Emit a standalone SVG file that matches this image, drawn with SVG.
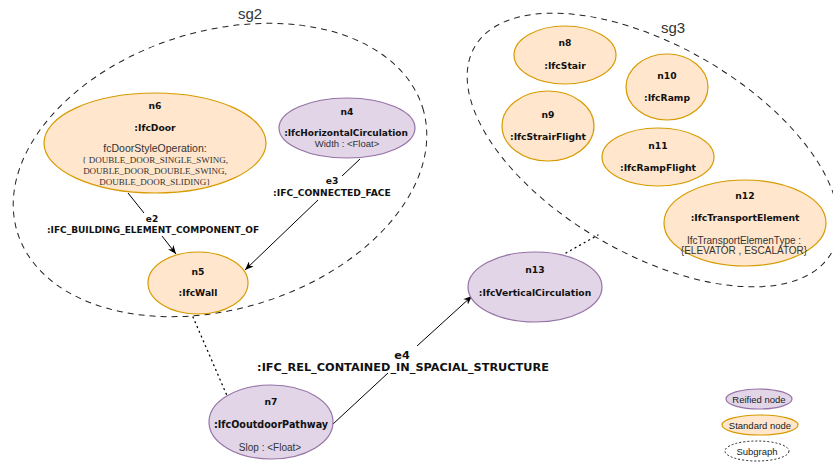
<svg xmlns="http://www.w3.org/2000/svg" width="833" height="462" viewBox="0 0 833 462">
  <style>
    .bg { fill: #ffffff; }
    .std { fill: #ffe6cc; stroke: #d79b00; stroke-width: 1.2; }
    .rei { fill: #e1d5e7; stroke: #9673a6; stroke-width: 1.2; }
    .sub { fill: none; stroke: #222; stroke-width: 1; stroke-dasharray: 6 5; }
    .edge { fill: none; stroke: #000; stroke-width: 1; }
    .dot { fill: none; stroke: #000; stroke-width: 1.3; stroke-dasharray: 1 4.2; stroke-linecap: round; }
    .t { font-family: "DejaVu Sans", Verdana, sans-serif; font-weight: bold; font-size: 9.2px; fill: #111; text-anchor: middle; }
    .lbl { font-size: 9px; }
    .big { font-size: 11.3px; }
    .attr { font-family: "Liberation Sans", Arial, sans-serif; font-size: 10px; fill: #333; text-anchor: middle; }
    .serif { font-family: "Liberation Serif", "Times New Roman", serif; font-size: 9px; fill: #333; text-anchor: middle; }
    .sg { font-family: "Liberation Sans", Arial, sans-serif; font-size: 15px; fill: #333; text-anchor: middle; }
    .leg { font-family: "Liberation Sans", Arial, sans-serif; font-size: 9.5px; fill: #222; text-anchor: middle; }
  </style>
  <defs>
    <marker id="arrow" viewBox="0 0 10 8" refX="10" refY="4" markerWidth="9" markerHeight="7" markerUnits="userSpaceOnUse" orient="auto">
      <path d="M0,0 L10,4 L0,8 L3,4 Z" fill="#000"/>
    </marker>
  </defs>

  <rect class="bg" x="0" y="0" width="833" height="462"/>

  <!-- subgraphs -->
  <g id="sg2">
    <ellipse class="sub" cx="220" cy="170" rx="212" ry="139" transform="rotate(-17 220 170)"/>
    <text class="sg" x="250" y="19">sg2</text>
  </g>
  <g id="sg3">
    <ellipse class="sub" cx="653" cy="150" rx="206" ry="104" transform="rotate(30 653 150)"/>
    <text class="sg" x="673" y="33">sg3</text>
  </g>

  <!-- connectors -->
  <g id="connectors">
    <g id="e2">
      <line class="edge" x1="128" y1="193" x2="144" y2="213"/>
      <line class="edge" x1="162" y1="236" x2="176" y2="254" marker-end="url(#arrow)"/>
      <text class="t lbl" x="152" y="222">e2</text>
      <text class="t lbl" x="153" y="233">:IFC_BUILDING_ELEMENT_COMPONENT_OF</text>
    </g>
    <g id="e3">
      <line class="edge" x1="360" y1="159" x2="342" y2="176"/>
      <line class="edge" x1="318" y1="200" x2="245" y2="270" marker-end="url(#arrow)"/>
      <text class="t" x="332" y="184">e3</text>
      <text class="t" x="332" y="196">:IFC_CONNECTED_FACE</text>
    </g>
    <g id="e4">
      <line class="edge" x1="333" y1="424" x2="388" y2="373"/>
      <line class="edge" x1="417" y1="346" x2="472" y2="296" marker-end="url(#arrow)"/>
      <text class="t big" x="402" y="359">e4</text>
      <text class="t big" x="403" y="371">:IFC_REL_CONTAINED_IN_SPACIAL_STRUCTURE</text>
    </g>
    <line class="dot" x1="193" y1="317" x2="228" y2="398"/>
    <line class="dot" x1="566" y1="253" x2="598" y2="235"/>
  </g>

  <!-- nodes -->
  <g id="n6">
    <ellipse class="std" cx="155" cy="143" rx="111" ry="50"/>
    <text class="t" x="155" y="108.5">n6</text>
    <text class="t" x="155" y="130.5">:IfcDoor</text>
    <text class="attr" x="155" y="151.7" style="font-size:10.5px">fcDoorStyleOperation:</text>
    <text class="serif" x="155" y="163">{ DOUBLE_DOOR_SINGLE_SWING,</text>
    <text class="serif" x="155" y="174">DOUBLE_DOOR_DOUBLE_SWING,</text>
    <text class="serif" x="155" y="185">DOUBLE_DOOR_SLIDING}</text>
  </g>
  <g id="n4">
    <ellipse class="rei" cx="347" cy="128" rx="68" ry="30"/>
    <text class="t" x="347" y="115">n4</text>
    <text class="t" x="346" y="136" style="font-size:9px">:IfcHorizontalCirculation</text>
    <text class="attr" x="347" y="147.3" style="font-size:9.5px">Width : &lt;Float&gt;</text>
  </g>
  <g id="n5">
    <ellipse class="std" cx="198" cy="283" rx="50" ry="31"/>
    <text class="t" x="198" y="275">n5</text>
    <text class="t" x="198" y="296">:IfcWall</text>
  </g>
  <g id="n7">
    <ellipse class="rei" cx="271" cy="422" rx="62" ry="37"/>
    <text class="t" x="271" y="405">n7</text>
    <text class="t" x="271" y="428" style="font-size:9.6px">:IfcOoutdoorPathway</text>
    <text class="attr" x="270" y="450.5">Slop : &lt;Float&gt;</text>
  </g>
  <g id="n13">
    <ellipse class="rei" cx="535" cy="287" rx="67" ry="35"/>
    <text class="t" x="535" y="273">n13</text>
    <text class="t" x="535" y="296">:IfcVerticalCirculation</text>
  </g>
  <g id="n8">
    <ellipse class="std" cx="565" cy="55" rx="51" ry="29"/>
    <text class="t" x="565" y="46">n8</text>
    <text class="t" x="565" y="69">:IfcStair</text>
  </g>
  <g id="n10">
    <ellipse class="std" cx="667" cy="87" rx="41" ry="33"/>
    <text class="t" x="667" y="79">n10</text>
    <text class="t" x="667" y="101">:IfcRamp</text>
  </g>
  <g id="n9">
    <ellipse class="std" cx="548" cy="126" rx="46" ry="35"/>
    <text class="t" x="548" y="118">n9</text>
    <text class="t" x="548" y="140">:IfcStrairFlight</text>
  </g>
  <g id="n11">
    <ellipse class="std" cx="658" cy="157" rx="56" ry="29"/>
    <text class="t" x="658" y="149">n11</text>
    <text class="t" x="658" y="171">:IfcRampFlight</text>
  </g>
  <g id="n12">
    <ellipse class="std" cx="745" cy="223" rx="81" ry="43"/>
    <text class="t" x="745" y="199">n12</text>
    <text class="t" x="745" y="221">:IfcTransportElement</text>
    <text class="attr" x="744" y="243.5">IfcTransportElemenType :</text>
    <text class="attr" x="744" y="254">{ELEVATOR , ESCALATOR}</text>
  </g>

  <!-- legend -->
  <g id="legend">
    <ellipse class="rei" cx="759" cy="399" rx="33" ry="10"/>
    <text class="leg" x="759" y="402.5">Reified node</text>
    <ellipse class="std" cx="760" cy="425" rx="38" ry="10"/>
    <text class="leg" x="760" y="428.5">Standard node</text>
    <ellipse cx="757" cy="451" rx="32" ry="10" fill="none" stroke="#222" stroke-width="1" stroke-dasharray="2 2"/>
    <text class="leg" x="757" y="454.5">Subgraph</text>
  </g>
</svg>
